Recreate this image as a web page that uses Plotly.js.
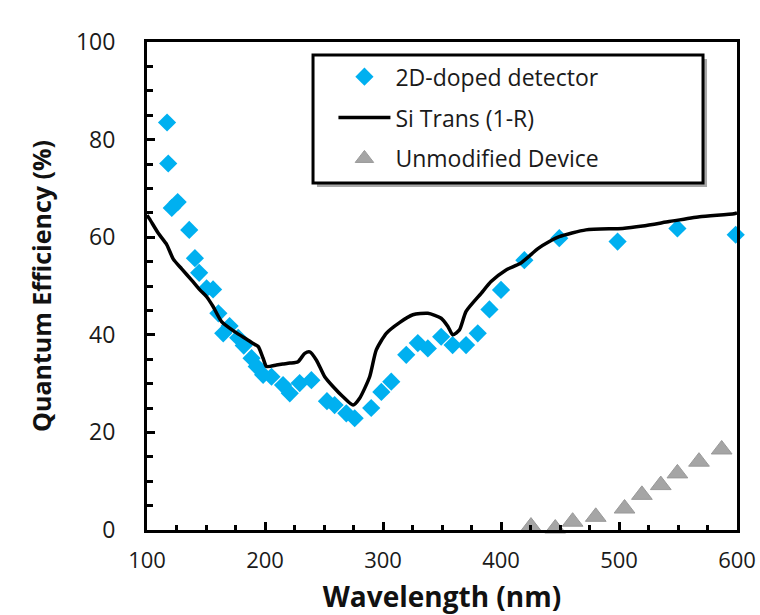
<!DOCTYPE html>
<html>
<head>
<meta charset="utf-8">
<script src="https://cdn.plot.ly/plotly-3.0.1.min.js"></script>
<style>html,body{margin:0;padding:0;background:#fff;}#chart{width:760px;height:615px;}</style>
</head>
<body>
<div id="chart"></div>
<script>
// 2D-doped detector (blue diamonds)
const dopedWavelength = [117, 118, 121, 126, 135.8, 140.6, 144.2, 150.5, 156, 160.5, 164.6, 170, 177.3, 182, 188.6, 193, 198.4, 205.5, 215.3, 221, 229.4, 239.3, 252.5, 259, 268.9, 276, 290, 298.6, 307, 319.7, 329.5, 338, 349.3, 359, 370.4, 380.3, 390.2, 400, 419.8, 449.4, 498.8, 549.5, 598.9];
const dopedQE = [83.5, 75.1, 66.0, 67.2, 61.5, 55.7, 52.7, 49.5, 49.3, 44.4, 40.3, 41.8, 39.4, 37.8, 35.2, 33.5, 31.8, 31.4, 29.7, 28.0, 30.1, 30.7, 26.4, 25.6, 23.9, 22.9, 25.0, 28.3, 30.4, 35.9, 38.3, 37.2, 39.6, 37.9, 37.9, 40.3, 45.2, 49.2, 55.3, 59.8, 59.1, 61.8, 60.5];

// Si Trans (1-R) (black line)
const siWavelength = [100, 102, 109.6, 116.7, 122.3, 129.4, 137.8, 144.8, 150.5, 156, 163.2, 174.5, 185.7, 190, 194.2, 198.4, 201.3, 209.7, 215, 221, 228, 233.7, 237.9, 243.6, 250.6, 257.6, 266.1, 274.6, 280.2, 288.7, 294.3, 302.8, 314, 325.3, 338, 349.3, 355, 359.1, 364.8, 370.4, 383.2, 391.6, 404.3, 416.2, 431.6, 441, 449.4, 472, 503, 520, 542.5, 568.3, 597.5, 600];
const siQE = [64.5, 63.8, 60.8, 58.5, 55.5, 53.5, 51.2, 49.2, 47.8, 45.8, 42.7, 40.6, 38.9, 38.2, 37.6, 35.2, 33.5, 33.8, 34.0, 34.2, 34.5, 36.2, 36.5, 34.8, 31.4, 29.4, 27.3, 25.6, 27.0, 31.4, 36.9, 40.3, 42.5, 44.1, 44.4, 43.4, 41.7, 40.0, 41.0, 44.8, 48.5, 50.9, 53.3, 54.6, 57.7, 59.1, 60.1, 61.5, 61.8, 62.3, 63.2, 64.2, 64.8, 65.0];

// Unmodified Device (grey triangles)
const unmodWavelength = [425.4, 446, 460.7, 480.3, 504.7, 519.4, 535.4, 549.5, 567.8, 587];
const unmodQE = [0.7, 0.3, 1.7, 2.7, 4.4, 7.2, 9.2, 11.6, 14.0, 16.5];

const xTickVals = [100, 200, 300, 400, 500, 600];
const yTickVals = [0, 20, 40, 60, 80, 100];

const FONT = 'Open Sans, Lato, sans-serif';

const traces = [
  {
    x: dopedWavelength, y: dopedQE, type: 'scatter', mode: 'markers',
    name: '2D-doped detector', legendgroup: 'a',
    marker: {symbol: 'diamond', size: 14, color: '#00B0F0', line: {width: 0}},
    cliponaxis: false
  },
  {
    x: siWavelength, y: siQE, type: 'scatter', mode: 'lines',
    name: 'Si Trans (1-R)', legendgroup: 'b',
    line: {color: '#000000', width: 3.5, shape: 'spline', smoothing: 0.6}
  },
  {
    x: unmodWavelength, y: unmodQE, type: 'scatter', mode: 'markers',
    name: 'Unmodified Device', legendgroup: 'c',
    marker: {symbol: 'triangle-up', size: 18, color: '#A5A5A5', line: {width: 1, color: '#999999'}},
    cliponaxis: false
  }
];

const layout = {
  width: 760, height: 615,
  margin: {l: 147, r: 23, t: 42, b: 85},
  paper_bgcolor: '#ffffff', plot_bgcolor: '#ffffff',
  font: {family: FONT, color: '#1a1a1a', size: 20},
  showlegend: true,
  legend: {
    x: 0.316, y: 0.973, xanchor: 'left', yanchor: 'top',
    bgcolor: 'rgba(0,0,0,0)', borderwidth: 0,
    font: {family: FONT, size: 23, color: '#1a1a1a'},
    tracegroupgap: 8, itemwidth: 52
  },
  shapes: [
    // legend shadow
    {type: 'rect', xref: 'paper', yref: 'paper', x0: 0.2881, x1: 0.9492, y0: 0.7029, y1: 0.9652,
     fillcolor: '#a8a8a8', line: {width: 0}, layer: 'above'},
    // legend frame
    {type: 'rect', xref: 'paper', yref: 'paper', x0: 0.2814, x1: 0.9424, y0: 0.7111, y1: 0.9734,
     fillcolor: '#ffffff', line: {width: 3, color: '#000000'}, layer: 'above'}
  ],
  xaxis: {
    range: [100, 600], tickmode: 'array', tickvals: xTickVals,
    ticks: 'inside', ticklen: 8, tickwidth: 3, tickcolor: '#000',
    minor: {dtick: 25, ticks: 'inside', ticklen: 5, tickwidth: 3, tickcolor: '#000', showgrid: false},
    showline: true, linecolor: '#000', linewidth: 3, mirror: true,
    showgrid: false, zeroline: false,
    ticklabelstandoff: 9,
    tickfont: {family: FONT, size: 22, color: '#1a1a1a'},
    title: {text: '<b>Wavelength (nm)</b>', font: {family: FONT, size: 28, color: '#111'}, standoff: 22}
  },
  yaxis: {
    range: [0, 100], tickmode: 'array', tickvals: yTickVals,
    ticks: 'inside', ticklen: 8, tickwidth: 3, tickcolor: '#000',
    minor: {dtick: 5, ticks: 'inside', ticklen: 6, tickwidth: 3, tickcolor: '#000', showgrid: false},
    showline: true, linecolor: '#000', linewidth: 3, mirror: true,
    showgrid: false, zeroline: false,
    ticklabelstandoff: 24,
    tickfont: {family: FONT, size: 23, color: '#1a1a1a'},
    title: {text: '<b>Quantum Efficiency (%)</b>', font: {family: FONT, size: 25, color: '#111'}, standoff: 18}
  }
};

Plotly.newPlot('chart', traces, layout, {displayModeBar: false, staticPlot: true});
</script>
</body>
</html>
